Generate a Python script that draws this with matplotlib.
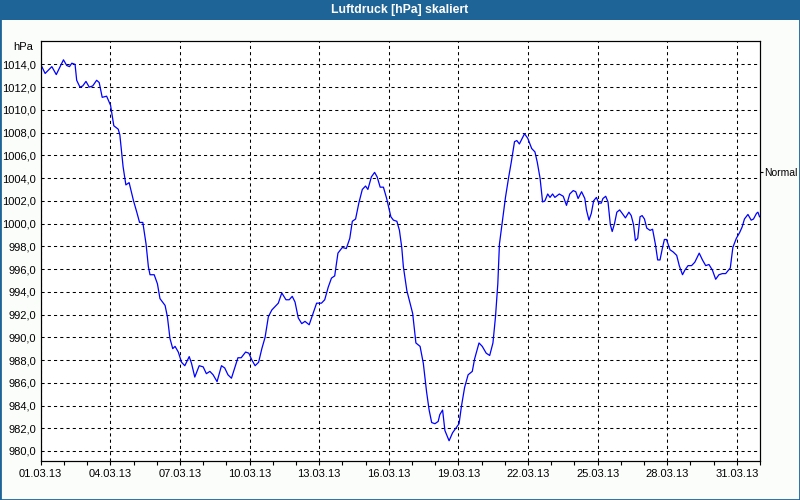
import numpy as np
import matplotlib
matplotlib.use('Agg')
import matplotlib.pyplot as plt
import matplotlib.dates as mdates
from matplotlib.patches import Rectangle
from matplotlib.ticker import FuncFormatter
import pandas as pd

plt.rcParams['font.family'] = ['Liberation Sans', 'DejaVu Sans']

# days since 01.03.2013 00:00 and air pressure in hPa
day_offset = [
    0.00, 0.19, 0.48, 0.67, 0.98, 1.12, 1.24, 1.34, 1.48, 1.55, 1.69, 1.81, 1.95,
    2.09, 2.24, 2.41, 2.52, 2.65, 2.84, 3.01, 3.15, 3.34, 3.41, 3.55, 3.67, 3.81,
    4.00, 4.14, 4.26, 4.40, 4.54, 4.64, 4.71, 4.89, 5.03, 5.14, 5.36, 5.46, 5.57,
    5.69, 5.79, 5.93, 6.07, 6.21, 6.40, 6.50, 6.64, 6.83, 7.00, 7.14, 7.29, 7.43,
    7.60, 7.79, 7.93, 8.07, 8.22, 8.36, 8.50, 8.64, 8.83, 8.97,
    9.10, 9.24, 9.39, 9.53, 9.67, 9.81, 9.96, 10.10, 10.24, 10.39, 10.57, 10.71,
    10.84, 10.96, 11.10, 11.25, 11.39, 11.57, 11.74, 11.89, 12.10, 12.24, 12.39,
    12.53, 12.67, 12.81, 13.00, 13.17, 13.32, 13.43, 13.57, 13.71, 13.86, 14.00,
    14.10, 14.25, 14.39, 14.50, 14.63, 14.77, 14.91,
    15.09, 15.20, 15.35, 15.46, 15.56, 15.63, 15.78, 15.92, 16.03, 16.17, 16.35,
    16.49, 16.63, 16.74, 16.85, 16.99, 17.13, 17.20, 17.32, 17.42, 17.60, 17.75,
    17.89, 18.03, 18.13, 18.27, 18.42, 18.60, 18.70, 18.89, 19.03, 19.20, 19.35,
    19.49, 19.60, 19.70, 19.77, 19.92, 20.03, 20.17, 20.28, 20.42, 20.52, 20.63,
    20.85, 20.99,
    21.16, 21.30, 21.40, 21.52, 21.63, 21.73, 21.85, 21.95, 22.06, 22.16, 22.35,
    22.52, 22.66, 22.80, 22.95, 23.06, 23.16, 23.31, 23.45, 23.52, 23.63, 23.73,
    23.83, 23.95, 24.05, 24.16, 24.23, 24.35, 24.45, 24.55, 24.63, 24.73, 24.83,
    24.95, 25.06, 25.20, 25.35, 25.45, 25.55, 25.63, 25.73, 25.83,
    25.92, 26.02, 26.12, 26.26, 26.37, 26.49, 26.59, 26.69, 26.80, 26.88, 26.97,
    27.12, 27.26, 27.41, 27.52, 27.66, 27.76, 27.90, 28.05, 28.19, 28.38, 28.52,
    28.66, 28.80, 28.95, 29.09, 29.23, 29.38, 29.52, 29.72, 29.83, 29.98, 30.12,
    30.23, 30.33, 30.48, 30.62, 30.72, 30.85, 30.91, 30.98,
]
pressure = [
    1014.0, 1013.2, 1013.8, 1013.1, 1014.4, 1013.9, 1013.8, 1014.1, 1014.0, 1012.6,
    1012.0, 1012.1, 1012.5, 1012.0, 1012.1, 1012.6, 1012.4, 1011.1, 1011.2, 1010.4,
    1008.6, 1008.3, 1007.8, 1005.0, 1003.4, 1003.6,
    1002.0, 1001.0, 1000.1, 1000.1, 998.2, 996.2, 995.5, 995.5, 994.7, 993.4,
    992.8, 991.8, 989.9, 989.0, 989.2, 988.7, 987.8, 987.5, 988.3, 987.7, 986.5,
    987.5, 987.4, 986.8, 987.0, 986.7, 986.1, 987.5, 987.3, 986.7, 986.4, 987.3,
    988.2, 988.2, 988.7, 988.6,
    988.0, 987.5, 987.8, 989.0, 990.0, 991.8, 992.4, 992.7, 993.0, 993.9, 993.3,
    993.3, 993.6, 993.1, 991.7, 991.2, 991.4, 991.1, 992.1, 993.0, 993.0, 993.3,
    994.4, 995.2, 995.4, 997.4, 997.9, 997.8, 998.7, 1000.2, 1000.4, 1001.8,
    1003.0, 1003.3, 1003.0, 1004.1, 1004.5, 1004.1, 1003.2, 1003.2, 1002.2,
    1000.6, 1000.3, 1000.2, 999.4, 997.9, 996.2, 994.1, 993.0, 992.1, 989.5,
    989.2, 987.7, 985.2, 983.6, 982.5, 982.4, 982.6, 983.2, 983.6, 981.8, 980.9,
    981.6, 982.0, 982.4, 983.9, 985.6, 986.7, 987.0, 988.1, 989.5, 989.2, 988.6,
    988.4, 989.5, 991.8, 994.7, 998.2, 1000.6, 1002.3, 1004.1, 1005.4, 1007.2,
    1007.3, 1007.0, 1007.9, 1007.5,
    1006.6, 1006.3, 1005.4, 1004.0, 1001.9, 1002.0, 1002.6, 1002.3, 1002.6, 1002.3,
    1002.6, 1002.4, 1001.6, 1002.6, 1002.9, 1002.8, 1002.2, 1002.8, 1002.2, 1001.2,
    1000.3, 1000.9, 1002.0, 1002.3, 1001.8, 1001.8, 1002.2, 1002.4, 1001.9, 999.9,
    999.3, 1000.0, 1001.0, 1001.2, 1000.9, 1000.5, 1001.0, 1000.7, 999.9, 998.5,
    998.7, 1000.6,
    1000.7, 1000.4, 999.6, 999.4, 999.5, 998.2, 996.8, 996.8, 997.9, 998.6, 998.6,
    997.7, 997.5, 997.2, 996.3, 995.5, 995.9, 996.3, 996.3, 996.6, 997.4, 996.8,
    996.3, 996.4, 995.9, 995.1, 995.5, 995.6, 995.6, 996.1, 997.9, 998.7, 999.2,
    999.7, 1000.4, 1000.8, 1000.3, 1000.4, 1000.9, 1001.0, 1000.6,
]
normal_pressure = 1004.5
y_ticks = np.arange(980, 1015, 2)

start = pd.Timestamp('2013-03-01')
times = start + pd.to_timedelta(day_offset, unit='D')
major_days = [start + pd.Timedelta(days=3 * k) for k in range(11)]

frame_blue = '#1e6496'

fig = plt.figure(figsize=(8, 5), dpi=100, facecolor='#fbfdfb')
ax = fig.add_axes([0.0509, 0.078, 0.8991, 0.8406])
ax.set_facecolor('white')

ax.plot(times, pressure, color='#0000ff', lw=0.9, zorder=3)

ax.set_xlim(start, start + pd.Timedelta(days=31))
ax.set_ylim(979.12, 1016.08)
ax.set_yticks(y_ticks)
ax.yaxis.set_major_formatter(FuncFormatter(lambda v, p: f'{v:.1f}'.replace('.', ',')))
ax.set_xticks(major_days)
ax.xaxis.set_minor_locator(mdates.DayLocator())
ax.xaxis.set_major_formatter(mdates.DateFormatter('%d.%m.%y'))

ax.grid(True, which='major', color='black', linestyle=(0, (3, 3)), lw=0.75)
ax.tick_params(axis='y', length=0, pad=3.5, labelsize=8)
ax.tick_params(axis='x', which='both', length=3, width=0.8, direction='out',
               pad=3, labelsize=8)
for s in ax.spines.values():
    s.set_linewidth(0.8)

# reference line marker on the right
ax2 = ax.twinx()
ax2.set_ylim(ax.get_ylim())
ax2.set_yticks([normal_pressure])
ax2.set_yticklabels(['Normal'])
ax2.tick_params(axis='y', length=2.5, width=0.8, pad=0.5, labelsize=7.5)
for s in ax2.spines.values():
    s.set_linewidth(0.8)

ax.text(-0.0107, 0.986, 'hPa', transform=ax.transAxes, ha='right', va='center',
        fontsize=8)

# title bar and window frame
fig.patches.append(Rectangle((0, 1 - 20 / 500), 1, 20 / 500, transform=fig.transFigure,
                             facecolor=frame_blue, edgecolor='none', zorder=0))
fig.patches.append(Rectangle((0, 0), 1, 1, transform=fig.transFigure, fill=False,
                             edgecolor=frame_blue, lw=2.0, zorder=0))
fig.text(0.5, 1 - 10 / 500, 'Luftdruck [hPa] skaliert', color='white',
         fontweight='bold', ha='center', va='center', fontsize=8.8)

fig.savefig('out.png', dpi=100, facecolor=fig.get_facecolor())
